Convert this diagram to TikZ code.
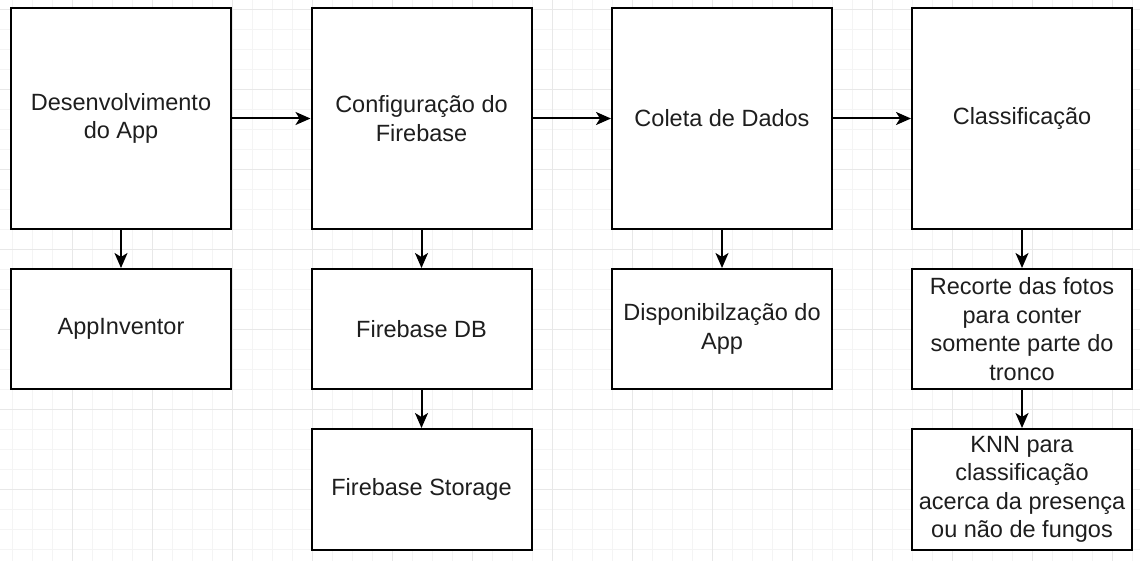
\documentclass[tikz,border=0pt]{standalone}
\usepackage{fontspec}
\setmainfont{Liberation Sans}
\usetikzlibrary{arrows.meta}
\definecolor{txt}{RGB}{30,30,30}
\definecolor{gridminor}{RGB}{244,244,244}
\definecolor{gridmajor}{RGB}{232,232,232}
\tikzset{
  box/.style={draw=black, line width=2pt, fill=white, rectangle, inner sep=0pt,
    minimum width=220pt, align=center, text=txt,
    font=\fontsize{23.5}{28.5}\selectfont},
  tall/.style={box, minimum height=221pt},
  short/.style={box, minimum height=120pt},
  conn/.style={draw=black, line width=2pt, -{Stealth[length=15pt,width=13pt,inset=4pt]}}
}
\begin{document}
\begin{tikzpicture}[x=1pt,y=-1pt]
\useasboundingbox (0,0) rectangle (1140,561);
\fill[white] (0,0) rectangle (1140,561);
% grid
\foreach \x in {12,32,...,1140} \draw[gridminor, line width=0.8pt] (\x,0) -- (\x,561);
\foreach \y in {9,29,...,561} \draw[gridminor, line width=0.8pt] (0,\y) -- (1140,\y);
\foreach \x in {72,152,...,1140} \draw[gridmajor, line width=0.8pt] (\x,0) -- (\x,561);
\foreach \y in {9,89,...,561} \draw[gridmajor, line width=0.8pt] (0,\y) -- (1140,\y);
% row 1
\node[tall] (a1) at (121,118.5) {Desenvolvimento\\do App};
\node[tall] (b1) at (421.5,118.5) {Configuração do\\Firebase};
\node[tall] (c1) at (722,118.5) {Coleta de Dados};
\node[tall] (d1) at (1022,118.5) {Classificação};
% row 2
\node[short] (a2) at (121,329) {AppInventor};
\node[short] (b2) at (421.5,329) {Firebase DB};
\node[short] (c2) at (722,329) {Disponibilzação do\\App};
\node[short] (d2) at (1022,329) {Recorte das fotos\\para conter\\somente parte do\\tronco};
% row 3
\node[short, minimum height=121pt] (b3) at (421.5,489.5) {Firebase Storage};
\node[short, minimum height=121pt] (d3) at (1022,489.5) {KNN para\\classificação\\acerca da presença\\ou não de fungos};
% connectors
\draw[conn] (a1) -- (b1);
\draw[conn] (b1) -- (c1);
\draw[conn] (c1) -- (d1);
\draw[conn] (a1) -- (a2);
\draw[conn] (b1) -- (b2);
\draw[conn] (c1) -- (c2);
\draw[conn] (d1) -- (d2);
\draw[conn] (b2) -- (b3);
\draw[conn] (d2) -- (d3);
\end{tikzpicture}
\end{document}
